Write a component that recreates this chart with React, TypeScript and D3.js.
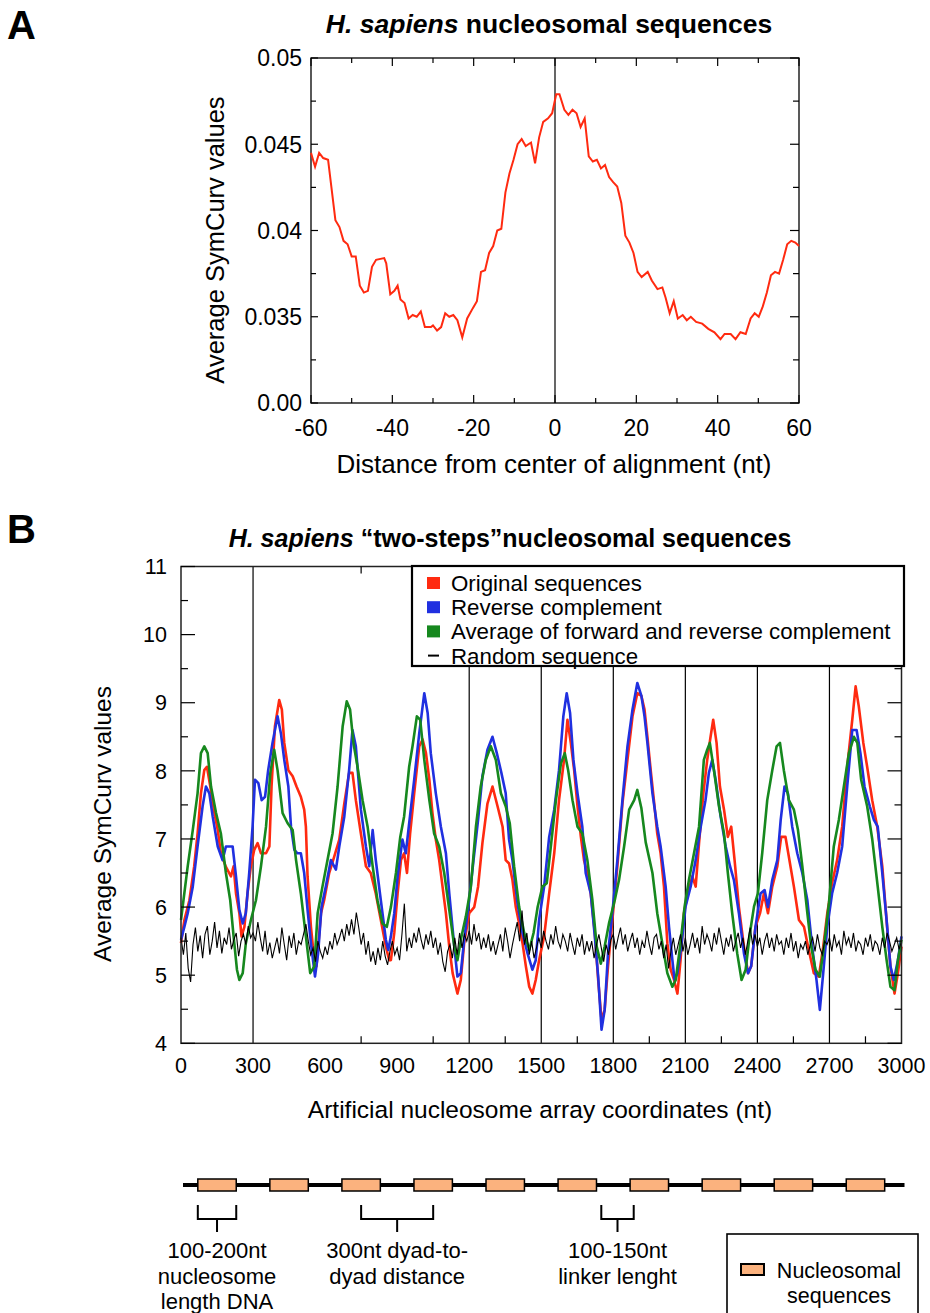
import React from "react";
import * as d3 from "d3";

// ---------- Panel A data ----------
const aTicksX = [-60, -40, -20, 0, 20, 40, 60];
const aMinorX = [-50, -30, -10, 10, 30, 50];
const aTicksY = [0.03, 0.035, 0.04, 0.045, 0.05];
const aTickLabelsY = ["0.00", "0.035", "0.04", "0.045", "0.05"];
const aMinorY = [0.0325, 0.0375, 0.0425, 0.0475];
const aCurve: [number, number][] = [
  [-60, 0.0445], [-59, 0.0437], [-58, 0.0445], [-57, 0.0442], [-55.8, 0.0441], [-55, 0.04255], [-54, 0.0406],
  [-53, 0.0402], [-52, 0.0394], [-51, 0.0392], [-50, 0.0385], [-49, 0.0385], [-48, 0.0368], [-47, 0.0364],
  [-46, 0.0365], [-45, 0.0379], [-44, 0.0383], [-42, 0.0384], [-41.5, 0.0381], [-40.5, 0.0363], [-39.5, 0.0365],
  [-38.7, 0.0368], [-38, 0.036], [-37, 0.0358], [-36, 0.0349], [-35, 0.0351], [-34, 0.035], [-33, 0.0353],
  [-32, 0.0344], [-30.5, 0.0344], [-30, 0.0345], [-29, 0.0342], [-28, 0.0344], [-27, 0.0352], [-26, 0.035],
  [-25, 0.0351], [-24, 0.0348], [-22.8, 0.0338], [-21.6, 0.0349], [-20.2, 0.0355], [-19.2, 0.0359],
  [-18.2, 0.0376], [-17.2, 0.0377], [-16.2, 0.0387], [-15.2, 0.0391], [-14.2, 0.04], [-13.2, 0.0401],
  [-12.2, 0.0422], [-11.2, 0.0433], [-10.2, 0.0441], [-9.2, 0.045], [-8.2, 0.0453], [-7.2, 0.0449],
  [-5.9, 0.0451], [-4.9, 0.0439], [-3.9, 0.0454], [-2.9, 0.0463], [-1.7, 0.0465], [-0.7, 0.0468],
  [0.3, 0.0479], [1.1, 0.0479], [2.3, 0.047], [3.3, 0.0467], [4.3, 0.047], [5.3, 0.0468], [6.3, 0.046],
  [7.3, 0.0465], [8.3, 0.0443], [9.3, 0.044], [10.3, 0.0441], [11.3, 0.0436], [12.3, 0.0438], [13.3, 0.0431],
  [14.3, 0.0428], [15.3, 0.04255], [16.3, 0.0416], [17.3, 0.0397], [18.3, 0.0393], [19.3, 0.0387],
  [20.3, 0.0376], [21.3, 0.0373], [22.8, 0.0376], [23.8, 0.0371], [25.2, 0.0366], [26.4, 0.0367],
  [27.2, 0.0361], [28.2, 0.0352], [29.2, 0.0359], [30.2, 0.0349], [31.4, 0.0351], [32.4, 0.0348],
  [33.4, 0.035], [34.7, 0.0347], [36.2, 0.0346], [37.7, 0.0343], [39.2, 0.0341], [40.7, 0.0337],
  [41.7, 0.034], [43.2, 0.034], [44.4, 0.0337], [45.6, 0.0341], [46.9, 0.034], [48.1, 0.0349],
  [49.1, 0.0352], [50.1, 0.035], [51.1, 0.0356], [52.1, 0.0364], [53.1, 0.0374], [54.1, 0.0376],
  [55.1, 0.0375], [56.1, 0.0383], [57.1, 0.0392], [58.1, 0.0394], [59.1, 0.0393], [60, 0.0391],
];

// ---------- Panel B data ----------
const bTicksX = [0, 300, 600, 900, 1200, 1500, 1800, 2100, 2400, 2700, 3000];
const bMinorX = [750, 1050, 1350, 1650, 1950, 2250, 2550, 2850];
const bLinesX = [300, 1200, 1500, 1800, 2100, 2400, 2700];
const bTicksY = [4, 5, 6, 7, 8, 9, 10, 11];
const bMinorY = [4.5, 5.5, 6.5, 7.5, 8.5, 9.5, 10.5];

const seriesNames = [
  "Original sequences",
  "Reverse complement",
  "Average of forward and reverse complement",
  "Random sequence",
];

const redSeries: [number, number][] = [
  [0, 5.47], [14, 5.81], [35, 6.1], [55, 6.6], [69, 7.08], [83, 7.67], [97, 8.01], [108, 8.06], [122, 7.77],
  [139, 7.38], [153, 7.13], [166, 6.79], [187, 6.59], [208, 6.45], [219, 6.6], [229, 6.2], [243, 5.91],
  [252, 5.57], [264, 5.71], [277, 6.2], [291, 6.6], [305, 6.84], [319, 6.94], [333, 6.79], [354, 6.79],
  [368, 6.89], [377, 7.77], [391, 8.65], [409, 9.04], [420, 8.9], [430, 8.41], [447, 8.01], [465, 7.92],
  [481, 7.77], [499, 7.62], [513, 7.43], [520, 7.18], [527, 6.45], [541, 5.71], [555, 5.22], [564, 5.13],
  [583, 5.91], [596, 6.1], [617, 6.5], [638, 6.74], [659, 6.99], [680, 7.52], [700, 7.97], [714, 7.97],
  [728, 7.57], [749, 7.08], [770, 6.6], [790, 6.5], [811, 6.2], [832, 5.81], [853, 5.42], [867, 5.22],
  [874, 5.22], [888, 5.62], [902, 6.2], [916, 6.69], [929, 6.79], [941, 6.5], [954, 7.08], [971, 7.67],
  [992, 8.36], [1006, 8.46], [1020, 8.26], [1034, 7.87], [1047, 7.38], [1061, 6.99], [1075, 6.69],
  [1089, 6.3], [1103, 5.91], [1117, 5.42], [1131, 5.03], [1151, 4.73], [1165, 4.93], [1179, 5.47],
  [1200, 5.91], [1221, 6.0], [1237, 6.3], [1255, 6.94], [1276, 7.52], [1297, 7.77], [1318, 7.48],
  [1339, 7.18], [1352, 6.69], [1366, 6.64], [1380, 6.4], [1394, 6.0], [1408, 5.76], [1422, 5.47],
  [1436, 5.13], [1450, 4.83], [1463, 4.73], [1477, 4.93], [1491, 5.22], [1512, 5.57], [1533, 6.2],
  [1554, 6.79], [1574, 7.57], [1595, 8.16], [1609, 8.75], [1623, 8.41], [1637, 8.01], [1651, 7.48],
  [1665, 7.03], [1678, 6.69], [1692, 6.5], [1706, 6.2], [1723, 5.62], [1737, 4.93], [1751, 4.34],
  [1764, 4.49], [1778, 5.13], [1796, 5.81], [1817, 6.6], [1838, 7.52], [1859, 8.16], [1880, 8.8],
  [1900, 9.14], [1917, 9.1], [1930, 8.9], [1942, 8.5], [1956, 8.0], [1969, 7.57], [1983, 7.08],
  [1997, 6.79], [2011, 6.3], [2025, 5.47], [2039, 5.08], [2053, 4.93], [2067, 4.73], [2080, 5.22],
  [2094, 5.91], [2111, 6.2], [2129, 6.45], [2143, 6.3], [2157, 6.94], [2175, 7.67], [2191, 8.16],
  [2205, 8.5], [2216, 8.75], [2230, 8.41], [2244, 7.77], [2261, 7.43], [2277, 7.03], [2291, 7.18],
  [2305, 6.69], [2323, 6.0], [2344, 5.42], [2361, 5.03], [2374, 5.13], [2392, 5.71], [2411, 5.91],
  [2427, 6.2], [2444, 5.91], [2462, 6.3], [2483, 6.6], [2499, 7.03], [2517, 7.03], [2531, 6.74],
  [2552, 6.3], [2573, 5.81], [2594, 5.71], [2614, 5.37], [2635, 5.03], [2656, 4.98], [2674, 5.42],
  [2691, 5.91], [2711, 6.35], [2732, 6.69], [2753, 7.18], [2774, 8.06], [2795, 8.75], [2809, 9.24],
  [2822, 8.95], [2841, 8.41], [2857, 8.06], [2878, 7.57], [2899, 7.18], [2920, 6.6], [2940, 5.71],
  [2954, 5.13], [2971, 4.73], [2985, 5.03], [3000, 5.42],
];

const blueSeries: [number, number][] = [
  [0, 5.52], [14, 5.71], [28, 5.91], [49, 6.3], [69, 6.89], [90, 7.48], [104, 7.77], [118, 7.67],
  [132, 7.33], [153, 6.89], [173, 6.69], [187, 6.89], [201, 6.89], [215, 6.89], [229, 6.45], [243, 5.96],
  [257, 5.76], [270, 5.91], [284, 6.5], [298, 7.18], [308, 7.87], [322, 7.82], [336, 7.57], [350, 7.62],
  [363, 8.01], [381, 8.41], [402, 8.8], [416, 8.55], [430, 8.16], [447, 7.77], [458, 7.18], [472, 6.84],
  [485, 6.79], [499, 6.79], [513, 6.5], [527, 5.96], [541, 5.47], [558, 4.98], [571, 5.32], [585, 6.0],
  [603, 6.3], [624, 6.69], [645, 6.55], [659, 6.89], [680, 7.33], [700, 8.01], [714, 8.6], [728, 8.36],
  [749, 7.43], [770, 6.89], [784, 6.6], [798, 7.13], [811, 6.69], [832, 6.1], [853, 5.52], [863, 5.37],
  [874, 5.57], [888, 5.91], [902, 6.45], [922, 6.99], [936, 6.79], [950, 7.23], [971, 7.87], [992, 8.55],
  [1013, 9.14], [1027, 8.85], [1040, 8.26], [1061, 7.67], [1082, 7.18], [1103, 6.79], [1117, 6.2],
  [1138, 5.42], [1151, 4.98], [1165, 5.03], [1179, 5.52], [1200, 6.1], [1218, 6.69], [1237, 7.28],
  [1255, 7.92], [1276, 8.31], [1297, 8.5], [1315, 8.26], [1334, 7.97], [1352, 7.67], [1366, 6.99],
  [1380, 6.69], [1401, 6.06], [1422, 5.62], [1443, 5.32], [1463, 5.08], [1477, 5.22], [1491, 5.81],
  [1512, 6.3], [1533, 7.03], [1554, 7.43], [1574, 8.01], [1592, 8.8], [1606, 9.14], [1620, 8.85],
  [1634, 8.16], [1651, 7.67], [1671, 7.18], [1685, 6.5], [1706, 6.2], [1723, 5.57], [1737, 4.98],
  [1751, 4.2], [1764, 4.49], [1778, 5.32], [1796, 5.91], [1817, 6.69], [1838, 7.57], [1859, 8.36],
  [1880, 8.9], [1900, 9.29], [1917, 9.1], [1930, 8.8], [1942, 8.41], [1963, 7.67], [1983, 7.18],
  [1997, 6.89], [2018, 6.3], [2032, 5.71], [2046, 5.22], [2055, 4.93], [2067, 5.03], [2083, 5.42],
  [2101, 6.01], [2122, 6.3], [2143, 6.69], [2164, 7.18], [2184, 7.57], [2198, 7.97], [2212, 8.16],
  [2226, 7.87], [2247, 7.33], [2268, 6.89], [2286, 6.6], [2302, 6.4], [2323, 5.91], [2344, 5.32],
  [2361, 5.03], [2374, 5.13], [2392, 5.71], [2413, 6.2], [2430, 6.25], [2444, 6.0], [2462, 6.4],
  [2483, 6.69], [2497, 7.28], [2513, 7.77], [2527, 7.67], [2545, 7.18], [2566, 6.79], [2587, 6.5],
  [2608, 6.1], [2628, 5.42], [2646, 4.93], [2660, 4.49], [2674, 5.03], [2691, 5.71], [2711, 6.2],
  [2732, 6.5], [2753, 6.89], [2774, 7.77], [2795, 8.6], [2813, 8.6], [2829, 8.26], [2846, 7.77],
  [2868, 7.48], [2885, 7.28], [2901, 7.18], [2920, 6.5], [2938, 5.81], [2954, 5.13], [2968, 4.93],
  [2985, 5.22], [3000, 5.57],
];

const greenSeries: [number, number][] = [
  [0, 5.81], [28, 6.6], [49, 7.13], [69, 7.67], [83, 8.26], [97, 8.36], [111, 8.26], [125, 7.77],
  [146, 7.38], [166, 7.08], [187, 6.5], [205, 6.1], [219, 5.57], [233, 5.08], [243, 4.93], [257, 5.03],
  [270, 5.47], [291, 5.81], [312, 6.1], [333, 6.6], [354, 7.18], [372, 7.97], [388, 8.31], [402, 8.01],
  [423, 7.38], [444, 7.23], [465, 7.13], [479, 6.69], [499, 6.2], [520, 5.57], [538, 5.03], [555, 5.13],
  [569, 5.91], [589, 6.3], [610, 6.69], [631, 7.08], [652, 7.77], [673, 8.65], [690, 9.02], [704, 8.9],
  [718, 8.41], [735, 8.06], [756, 7.57], [777, 7.18], [798, 6.6], [818, 6.1], [839, 5.76], [857, 5.71],
  [874, 6.0], [895, 6.5], [913, 7.03], [929, 7.33], [950, 8.06], [964, 8.36], [982, 8.8], [996, 8.75],
  [1013, 8.16], [1034, 7.57], [1054, 7.08], [1075, 6.89], [1096, 6.5], [1117, 5.96], [1138, 5.42],
  [1151, 5.22], [1168, 5.57], [1186, 5.86], [1207, 6.3], [1228, 7.18], [1248, 7.77], [1269, 8.16],
  [1290, 8.36], [1311, 8.16], [1332, 7.67], [1352, 7.48], [1369, 7.23], [1387, 6.6], [1408, 6.0],
  [1429, 5.62], [1450, 5.37], [1468, 5.62], [1485, 6.0], [1505, 6.3], [1523, 6.35], [1540, 6.89],
  [1561, 7.57], [1582, 8.11], [1598, 8.26], [1612, 8.01], [1630, 7.57], [1651, 7.18], [1671, 7.08],
  [1692, 6.69], [1713, 6.1], [1731, 5.42], [1748, 5.17], [1764, 5.42], [1782, 5.76], [1806, 6.1],
  [1824, 6.4], [1845, 6.89], [1866, 7.43], [1887, 7.57], [1900, 7.72], [1917, 7.45], [1935, 6.95],
  [1963, 6.5], [1983, 5.91], [2004, 5.47], [2025, 5.03], [2046, 4.83], [2060, 4.93], [2078, 5.42],
  [2097, 6.01], [2115, 6.4], [2136, 6.79], [2157, 7.18], [2177, 8.16], [2191, 8.31], [2202, 8.41],
  [2219, 8.01], [2240, 7.48], [2261, 7.08], [2277, 6.5], [2295, 5.91], [2316, 5.32], [2334, 4.93],
  [2351, 5.08], [2369, 5.62], [2386, 6.01], [2402, 6.2], [2420, 6.79], [2441, 7.57], [2462, 8.01],
  [2480, 8.36], [2494, 8.41], [2510, 8.01], [2531, 7.57], [2552, 7.43], [2569, 7.13], [2587, 6.6],
  [2608, 5.91], [2624, 5.42], [2642, 5.08], [2660, 4.98], [2677, 5.42], [2698, 6.06], [2718, 6.89],
  [2739, 7.28], [2760, 7.77], [2781, 8.26], [2802, 8.5], [2816, 8.41], [2832, 7.87], [2857, 7.48],
  [2878, 7.0], [2901, 6.3], [2920, 5.71], [2938, 5.22], [2954, 4.83], [2971, 4.78], [2985, 5.22],
  [3000, 5.52],
];

// random sequence, one value every 10 nt from 0 to 3000
const randomStep = 10;
const randomValues = [
  5.55, 5.3, 5.62, 5.1, 4.9, 5.45, 5.7, 5.35, 5.58, 5.25,
  5.6, 5.72, 5.3, 5.5, 5.78, 5.4, 5.65, 5.32, 5.55, 5.45,
  5.7, 5.38, 5.52, 5.62, 5.28, 5.5, 5.6, 5.45, 5.72, 5.55,
  5.62, 5.5, 5.78, 5.55, 5.35, 5.65, 5.3, 5.48, 5.25, 5.4,
  5.55, 5.32, 5.7, 5.45, 5.22, 5.58, 5.4, 5.62, 5.3, 5.5,
  5.45, 5.6, 5.75, 5.5, 5.3, 5.4, 5.2, 5.5, 5.35, 5.25,
  5.42, 5.3, 5.5, 5.38, 5.62, 5.45, 5.55, 5.68, 5.5, 5.75,
  5.58, 5.82, 5.6, 5.92, 5.7, 5.45, 5.62, 5.3, 5.5, 5.2,
  5.35, 5.15, 5.4, 5.22, 5.5, 5.28, 5.15, 5.35, 5.5, 5.3,
  5.4, 5.22, 5.6, 6.05, 5.35, 5.55, 5.4, 5.62, 5.48, 5.7,
  5.52, 5.38, 5.6, 5.45, 5.65, 5.4, 5.55, 5.3, 5.48, 5.2,
  5.05, 5.35, 5.45, 5.25, 5.55, 5.3, 5.62, 5.4, 5.6, 5.5,
  5.65, 5.45, 5.75, 5.5, 5.62, 5.38, 5.55, 5.4, 5.6, 5.35,
  5.5, 5.3, 5.45, 5.6, 5.35, 5.7, 5.5, 5.25, 5.45, 5.62,
  5.78, 5.5, 5.95, 5.45, 5.62, 5.3, 5.5, 5.25, 5.4, 5.55,
  5.4, 5.65, 5.5, 5.38, 5.6, 5.45, 5.72, 5.5, 5.4, 5.6,
  5.5, 5.35, 5.62, 5.45, 5.3, 5.55, 5.42, 5.6, 5.3, 5.5,
  5.35, 5.5, 5.25, 5.45, 5.6, 5.4, 5.2, 5.45, 5.3, 5.52,
  5.6, 5.38, 5.55, 5.7, 5.45, 5.6, 5.35, 5.5, 5.62, 5.4,
  5.55, 5.3, 5.5, 5.4, 5.65, 5.45, 5.3, 5.55, 5.6, 5.38,
  5.5, 5.25, 5.45, 5.1, 5.35, 5.55, 5.3, 5.45, 5.6, 5.35,
  5.55, 5.3, 5.45, 5.62, 5.4, 5.55, 5.32, 5.72, 5.45, 5.6,
  5.5, 5.35, 5.62, 5.45, 5.7, 5.5, 5.3, 5.55, 5.42, 5.6,
  5.35, 5.5, 5.62, 5.4, 5.55, 5.3, 5.5, 5.7, 5.45, 5.6,
  5.42, 5.55, 5.3, 5.5, 5.62, 5.4, 5.55, 5.35, 5.6, 5.45,
  5.5, 5.3, 5.55, 5.4, 5.62, 5.35, 5.5, 5.25, 5.45, 5.38,
  5.5, 5.3, 5.45, 5.55, 5.35, 5.6, 5.4, 5.3, 5.5, 5.45,
  5.55, 5.35, 5.6, 5.42, 5.5, 5.3, 5.65, 5.45, 5.55, 5.4,
  5.62, 5.35, 5.5, 5.45, 5.3, 5.55, 5.42, 5.6, 5.35, 5.5,
  5.45, 5.3, 5.55, 5.4, 5.62, 5.5, 5.35, 5.45, 5.55, 5.38,
  5.5,
];

// ---------- Schematic data ----------
const dyads = [150, 450, 750, 1050, 1350, 1650, 1950, 2250, 2550, 2850];
const nucLength = 160;
const brackets: { from: number; to: number; lines: string[] }[] = [
  { from: 70, to: 230, lines: ["100-200nt", "nucleosome", "length DNA"] },
  { from: 750, to: 1050, lines: ["300nt dyad-to-", "dyad distance"] },
  { from: 1750, to: 1885, lines: ["100-150nt", "linker lenght"] },
];

const FONT = "'Liberation Sans', Arial, Helvetica, sans-serif";
const RED = "#FF2A10";
const BLUE = "#2030E0";
const GREEN = "#16881E";
const ORANGE = "#FBB27E";

export default function App() {
  // Panel A scales
  const ax = d3.scaleLinear().domain([-60, 60]).range([311, 799]);
  const ay = d3.scaleLinear().domain([0.03, 0.05]).range([403, 58]);
  const aLine = d3.line<[number, number]>().x((d) => ax(d[0])).y((d) => ay(d[1]));

  // Panel B scales
  const bx = d3.scaleLinear().domain([0, 3000]).range([181, 901.5]);
  const by = d3.scaleLinear().domain([4, 11]).range([1043.3, 566.5]);
  const bLine = d3.line<[number, number]>().x((d) => bx(d[0])).y((d) => by(d[1]));
  const randomSeries: [number, number][] = randomValues.map((v, i) => [i * randomStep, v]);

  const aL = ax.range()[0], aR = ax.range()[1], aT = ay.range()[1], aB = ay.range()[0];
  const bL = bx.range()[0], bR = bx.range()[1], bT = by.range()[1], bB = by.range()[0];

  const legendColors = [RED, BLUE, GREEN, "#000"];
  const schemY = 1185;

  return (
    <svg
      width={930}
      height={1313}
      style={{ position: "absolute", left: 0, top: 0, background: "#fff" }}
      fontFamily={FONT}
    >
      <rect x={0} y={0} width={930} height={1313} fill="#fff" />
      {/* Panel letters */}
      <text x={7} y={39} fontSize={40} fontWeight="bold">A</text>
      <text x={7} y={543} fontSize={40} fontWeight="bold">B</text>

      {/* ---------------- Panel A ---------------- */}
      <text x={549} y={33} fontSize={26.5} fontWeight="bold" textAnchor="middle">
        <tspan fontStyle="italic">H. sapiens</tspan> nucleosomal sequences
      </text>
      <rect x={aL} y={aT} width={aR - aL} height={aB - aT} fill="none" stroke="#000" strokeWidth={1.3} />
      {aTicksY.map((t, i) => (
        <g key={"ay" + t}>
          <line x1={aL} x2={aL + 7} y1={ay(t)} y2={ay(t)} stroke="#000" strokeWidth={1.2} />
          <line x1={aR} x2={aR - 9} y1={ay(t)} y2={ay(t)} stroke="#000" strokeWidth={1.2} />
          <text x={aL - 9} y={ay(t)} dy="0.36em" fontSize={23} textAnchor="end">{aTickLabelsY[i]}</text>
        </g>
      ))}
      {aMinorY.map((t) => (
        <g key={"aym" + t}>
          <line x1={aL} x2={aL + 5} y1={ay(t)} y2={ay(t)} stroke="#000" strokeWidth={1.2} />
          <line x1={aR} x2={aR - 6} y1={ay(t)} y2={ay(t)} stroke="#000" strokeWidth={1.2} />
        </g>
      ))}
      {aTicksX.map((t) => (
        <g key={"ax" + t}>
          <line x1={ax(t)} x2={ax(t)} y1={aB} y2={aB - 8} stroke="#000" strokeWidth={1.2} />
          <line x1={ax(t)} x2={ax(t)} y1={aT} y2={aT + 8} stroke="#000" strokeWidth={1.2} />
          <text x={ax(t)} y={436} fontSize={23} textAnchor="middle">{t}</text>
        </g>
      ))}
      {aMinorX.map((t) => (
        <g key={"axm" + t}>
          <line x1={ax(t)} x2={ax(t)} y1={aB} y2={aB - 5} stroke="#000" strokeWidth={1.2} />
          <line x1={ax(t)} x2={ax(t)} y1={aT} y2={aT + 5} stroke="#000" strokeWidth={1.2} />
        </g>
      ))}
      <line x1={ax(0)} x2={ax(0)} y1={aT} y2={aB} stroke="#000" strokeWidth={1.2} />
      <path d={aLine(aCurve) || ""} fill="none" stroke={RED} strokeWidth={2} />
      <text x={554} y={473} fontSize={26} textAnchor="middle">Distance from center of alignment (nt)</text>
      <text transform="translate(224,240) rotate(-90)" fontSize={25.5} textAnchor="middle">Average SymCurv values</text>

      {/* ---------------- Panel B ---------------- */}
      <text x={510} y={547} fontSize={25} fontWeight="bold" textAnchor="middle">
        <tspan fontStyle="italic">H. sapiens</tspan> “two-steps”nucleosomal sequences
      </text>
      {bLinesX.map((t) => (
        <line key={"bl" + t} x1={bx(t)} x2={bx(t)} y1={bT} y2={bB} stroke="#000" strokeWidth={1.2} />
      ))}
      <path d={bLine(redSeries) || ""} fill="none" stroke={RED} strokeWidth={2.6} strokeLinejoin="round" />
      <path d={bLine(blueSeries) || ""} fill="none" stroke={BLUE} strokeWidth={2.6} strokeLinejoin="round" />
      <path d={bLine(greenSeries) || ""} fill="none" stroke={GREEN} strokeWidth={2.6} strokeLinejoin="round" />
      <path d={bLine(randomSeries) || ""} fill="none" stroke="#000" strokeWidth={1.1} />
      <rect x={bL} y={bT} width={bR - bL} height={bB - bT} fill="none" stroke="#222" strokeWidth={1.5} />
      {bTicksY.map((t) => (
        <g key={"by" + t}>
          <line x1={bL} x2={bL + 14} y1={by(t)} y2={by(t)} stroke="#000" strokeWidth={1.2} />
          <line x1={bR} x2={bR - 14} y1={by(t)} y2={by(t)} stroke="#000" strokeWidth={1.2} />
          <text x={167} y={by(t)} dy="0.36em" fontSize={21.5} textAnchor="end">{t}</text>
        </g>
      ))}
      {bMinorY.map((t) => (
        <g key={"bym" + t}>
          <line x1={bL} x2={bL + 7} y1={by(t)} y2={by(t)} stroke="#000" strokeWidth={1.2} />
          <line x1={bR} x2={bR - 7} y1={by(t)} y2={by(t)} stroke="#000" strokeWidth={1.2} />
        </g>
      ))}
      {bMinorX.map((t) => (
        <g key={"bxm" + t}>
          <line x1={bx(t)} x2={bx(t)} y1={bB} y2={bB - 7} stroke="#000" strokeWidth={1.2} />
          <line x1={bx(t)} x2={bx(t)} y1={bT} y2={bT + 7} stroke="#000" strokeWidth={1.2} />
        </g>
      ))}
      {bTicksX.map((t) => (
        <text key={"bx" + t} x={bx(t)} y={1073} fontSize={21.5} textAnchor="middle">{t}</text>
      ))}
      {/* legend */}
      <rect x={412} y={566} width={492} height={100} fill="#fff" stroke="#000" strokeWidth={2.2} />
      {seriesNames.map((name, i) => {
        const cy = 583 + i * 24.2;
        return (
          <g key={name}>
            {i < 3 ? (
              <rect x={427} y={cy - 6} width={13} height={12} fill={legendColors[i]} />
            ) : (
              <line x1={428} x2={439} y1={cy} y2={cy} stroke="#000" strokeWidth={2} />
            )}
            <text x={451} y={cy} dy="0.36em" fontSize={22.3}>{name}</text>
          </g>
        );
      })}
      <text x={540} y={1118} fontSize={24.5} textAnchor="middle">Artificial nucleosome array coordinates (nt)</text>
      <text transform="translate(111,824) rotate(-90)" fontSize={24.5} textAnchor="middle">Average SymCurv values</text>

      {/* ---------------- Schematic ---------------- */}
      <line x1={bx(0) + 2} x2={bx(3000) + 3} y1={schemY} y2={schemY} stroke="#000" strokeWidth={4} />
      {dyads.map((d) => (
        <rect
          key={"nuc" + d}
          x={bx(d - nucLength / 2)}
          y={schemY - 6}
          width={bx(d + nucLength / 2) - bx(d - nucLength / 2)}
          height={12}
          fill={ORANGE}
          stroke="#000"
          strokeWidth={1.5}
        />
      ))}
      {brackets.map((b) => {
        const x1 = bx(b.from), x2 = bx(b.to), xm = (x1 + x2) / 2;
        return (
          <g key={"br" + b.from}>
            <path
              d={`M${x1},1205 V1219 H${x2} V1205 M${xm},1219 V1232`}
              fill="none"
              stroke="#000"
              strokeWidth={2}
            />
            {b.lines.map((l, i) => (
              <text key={l} x={xm} y={1258 + i * 25.5} fontSize={22} textAnchor="middle">{l}</text>
            ))}
          </g>
        );
      })}
      <rect x={727} y={1234} width={191} height={100} fill="#fff" stroke="#000" strokeWidth={1.6} />
      <rect x={741} y={1264} width={23} height={11} fill={ORANGE} stroke="#000" strokeWidth={2} />
      <text x={839} y={1278} fontSize={21.5} textAnchor="middle">Nucleosomal</text>
      <text x={839} y={1303} fontSize={21.5} textAnchor="middle">sequences</text>
    </svg>
  );
}
